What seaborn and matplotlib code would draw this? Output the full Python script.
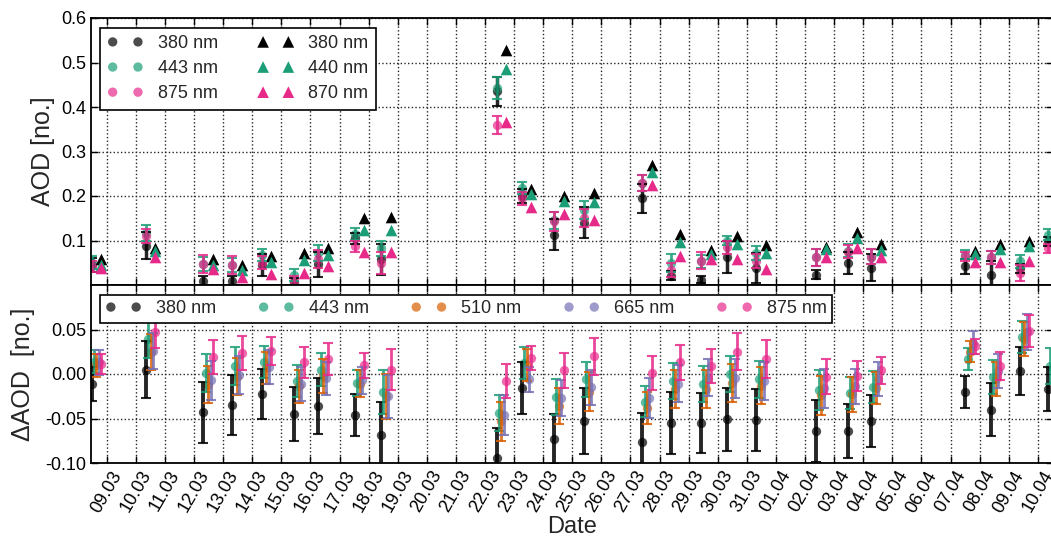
import matplotlib
matplotlib.use("Agg")
import matplotlib.pyplot as plt
import matplotlib.dates as mdates
import numpy as np
import pandas as pd
import seaborn as sns

nan = np.nan

# measurement times of the photometer (circles)
times = ["2014-03-08 11:30", "2014-03-10 08:10", "2014-03-12 07:40", "2014-03-13 07:25",
         "2014-03-14 07:40", "2014-03-15 10:35", "2014-03-16 06:30", "2014-03-17 12:30",
         "2014-03-18 10:05", "2014-03-22 09:35", "2014-03-23 06:15", "2014-03-24 08:55",
         "2014-03-25 09:35", "2014-03-27 09:35", "2014-03-28 09:05", "2014-03-29 10:05",
         "2014-03-30 07:55", "2014-03-31 07:55", "2014-04-02 09:20", "2014-04-03 11:00",
         "2014-04-04 06:15", "2014-04-07 12:15", "2014-04-08 09:05", "2014-04-09 08:55",
         "2014-04-10 08:25"]

# AOD photometer (circles)
aod_380 = [0.045, 0.088, 0.010, 0.010, 0.045, 0.006, 0.047, 0.105, 0.058, 0.435, 0.200, 0.113, 0.140,
           0.195, 0.021, 0.012, 0.063, 0.039, 0.023, 0.050, 0.039, 0.042, 0.023, 0.038, 0.098]
aod_380_err = [0.015, 0.030, 0.010, 0.010, 0.025, 0.010, 0.028, 0.012, 0.035, 0.033, 0.015, 0.035, 0.035,
               0.033, 0.010, 0.008, 0.035, 0.034, 0.010, 0.025, 0.030, 0.017, 0.030, 0.010, 0.010]
aod_443 = [0.050, 0.117, 0.047, 0.045, 0.068, 0.023, 0.072, 0.115, 0.083, 0.442, 0.218, 0.145, 0.169,
           0.229, 0.050, 0.053, 0.100, 0.072, 0.062, 0.077, 0.064, 0.068, 0.062, 0.053, 0.113]
aod_443_err = [0.015, 0.018, 0.015, 0.015, 0.014, 0.014, 0.018, 0.013, 0.017, 0.025, 0.013, 0.020, 0.020,
               0.018, 0.020, 0.015, 0.010, 0.015, 0.020, 0.015, 0.017, 0.010, 0.015, 0.015, 0.012]
aod_875 = [0.042, 0.110, 0.047, 0.045, 0.050, 0.010, 0.058, 0.087, 0.049, 0.360, 0.195, 0.143, 0.150,
           0.229, 0.034, 0.055, 0.085, 0.054, 0.062, 0.075, 0.064, 0.065, 0.062, 0.027, 0.083]
aod_875_err = [0.012, 0.015, 0.020, 0.020, 0.015, 0.010, 0.020, 0.013, 0.025, 0.020, 0.015, 0.022, 0.020,
               0.018, 0.015, 0.020, 0.015, 0.015, 0.020, 0.015, 0.017, 0.010, 0.015, 0.017, 0.010]

# AERONET (triangles)
aer_380 = [0.058, 0.083, 0.059, 0.044, 0.066, 0.073, 0.084, 0.150, 0.152, 0.528, 0.215, 0.200, 0.206,
           0.270, 0.114, 0.079, 0.110, 0.090, 0.085, 0.120, 0.092, 0.077, 0.093, 0.100, nan]
aer_440 = [0.045, 0.077, 0.044, 0.034, 0.052, 0.057, 0.068, 0.124, 0.124, 0.485, 0.204, 0.188, 0.186,
           0.253, 0.096, 0.069, 0.092, 0.072, 0.080, 0.105, 0.079, 0.070, 0.080, 0.088, nan]
aer_870 = [0.038, 0.062, 0.036, 0.019, 0.024, 0.027, 0.042, 0.075, 0.075, 0.367, 0.176, 0.160, 0.145,
           0.225, 0.066, 0.058, 0.059, 0.036, 0.062, 0.083, 0.063, 0.051, 0.051, 0.053, nan]

# delta AOD
d380 = [-0.011, 0.005, -0.043, -0.035, -0.022, -0.045, -0.036, -0.046, -0.069, -0.094, -0.016, -0.073, -0.053,
        -0.076, -0.055, -0.055, -0.051, -0.052, -0.064, -0.064, -0.053, -0.020, -0.040, 0.003, -0.017]
d380_err = [0.019, 0.032, 0.034, 0.034, 0.028, 0.030, 0.031, 0.024, 0.037, 0.033, 0.029, 0.028, 0.037,
            0.032, 0.035, 0.034, 0.035, 0.035, 0.035, 0.030, 0.029, 0.018, 0.030, 0.027, 0.025]
d443 = [0.014, 0.039, 0.001, 0.009, 0.014, -0.008, 0.005, -0.010, -0.020, -0.044, 0.012, -0.026, -0.006,
        -0.031, -0.008, -0.011, 0.000, -0.006, -0.018, -0.021, -0.015, 0.017, -0.003, 0.042, 0.009]
d443_err = [0.013, 0.021, 0.021, 0.021, 0.018, 0.018, 0.019, 0.015, 0.025, 0.020, 0.018, 0.020, 0.020,
            0.017, 0.020, 0.020, 0.020, 0.021, 0.022, 0.018, 0.018, 0.012, 0.019, 0.018, 0.020]
d510 = [0.010, 0.025, -0.012, -0.003, 0.007, -0.014, -0.002, -0.011, -0.025, -0.053, 0.010, -0.036, -0.020,
        -0.038, -0.017, -0.017, -0.010, -0.013, -0.024, -0.023, -0.016, 0.025, -0.006, 0.039, nan]
d510_err = [0.013, 0.020, 0.021, 0.021, 0.018, 0.019, 0.019, 0.015, 0.025, 0.022, 0.018, 0.020, 0.022,
            0.018, 0.021, 0.021, 0.021, 0.021, 0.022, 0.020, 0.018, 0.012, 0.019, 0.019, nan]
d665 = [0.013, 0.026, -0.007, -0.001, 0.008, -0.011, -0.005, -0.007, -0.025, -0.046, -0.006, -0.027, -0.015,
        -0.027, -0.011, -0.004, -0.005, -0.008, -0.016, -0.014, -0.006, 0.035, 0.003, 0.047, nan]
d665_err = [0.014, 0.020, 0.022, 0.021, 0.019, 0.019, 0.019, 0.015, 0.024, 0.022, 0.014, 0.020, 0.020,
            0.022, 0.021, 0.021, 0.022, 0.021, 0.022, 0.020, 0.019, 0.013, 0.019, 0.020, nan]
d875 = [0.011, 0.047, 0.019, 0.024, 0.026, 0.013, 0.017, 0.010, 0.005, -0.008, 0.018, 0.004, 0.020,
        0.001, 0.013, 0.009, 0.025, 0.017, -0.003, -0.002, 0.004, 0.031, 0.009, 0.048, nan]
d875_err = [0.011, 0.018, 0.019, 0.019, 0.016, 0.017, 0.018, 0.014, 0.023, 0.019, 0.014, 0.020, 0.021,
            0.019, 0.020, 0.019, 0.021, 0.021, 0.020, 0.017, 0.015, 0.008, 0.016, 0.018, nan]

sns.set_style("ticks")
plt.rcParams["font.family"] = ["Liberation Sans", "DejaVu Sans"]
plt.rcParams["xtick.direction"] = "in"
plt.rcParams["ytick.direction"] = "in"

pal = sns.color_palette("Dark2")
green, orange, purple, pink = pal[0], pal[1], pal[2], pal[3]

t = pd.to_datetime(pd.Series(times))
t_aer = t + pd.Timedelta(hours=8)

fig = plt.figure(figsize=(10.51, 5.37), dpi=100)
ax1 = fig.add_axes([91 / 1051, 1 - 285 / 537, 962 / 1051, 267 / 537])
ax2 = fig.add_axes([91 / 1051, 1 - 463 / 537, 962 / 1051, 178 / 537], sharex=ax1)

# top panel
for y, e, c, lab, lw in [(aod_380, aod_380_err, "k", "380 nm", 2.5),
                         (aod_443, aod_443_err, green, "443 nm", 2),
                         (aod_875, aod_875_err, pink, "875 nm", 2)]:
    ax1.errorbar(t, y, yerr=e, fmt="none", ecolor=c, elinewidth=lw, capsize=3.5, capthick=1.5, alpha=0.85)
    sns.scatterplot(x=t, y=y, color=c, alpha=0.7, s=45, linewidth=0, label=lab, ax=ax1)
for y, c, lab in [(aer_380, "k", "380 nm"), (aer_440, green, "440 nm"), (aer_870, pink, "870 nm")]:
    sns.scatterplot(x=t_aer, y=y, color=c, marker="^", s=70, linewidth=0, label=lab, ax=ax1)

# bottom panel
for i, (y, e, c, lab, lw) in enumerate([(d380, d380_err, "k", "380 nm", 2.8),
                                        (d443, d443_err, green, "443 nm", 2),
                                        (d510, d510_err, orange, "510 nm", 2),
                                        (d665, d665_err, purple, "665 nm", 2),
                                        (d875, d875_err, pink, "875 nm", 2)]):
    ts = t + pd.Timedelta(hours=2 * i)
    ax2.errorbar(ts, y, yerr=e, fmt="none", ecolor=c, elinewidth=lw, capsize=3.5, capthick=1.5, alpha=0.85)
    sns.scatterplot(x=ts, y=y, color=c, alpha=0.7, s=45, linewidth=0, label=lab, ax=ax2)

x0 = pd.Timestamp("2014-03-09") - pd.Timedelta(days=0.54)
x1 = pd.Timestamp("2014-03-09") + pd.Timedelta(days=32.52)
ax1.set_xlim(x0, x1)
ax1.set_ylim(0, 0.6)
ax2.set_ylim(-0.1, 0.1)
ax1.set_yticks([0.1, 0.2, 0.3, 0.4, 0.5, 0.6])
ax2.set_yticks([-0.10, -0.05, 0.00, 0.05])
ax1.yaxis.set_major_formatter(matplotlib.ticker.FormatStrFormatter("%.1f"))
ax2.yaxis.set_major_formatter(matplotlib.ticker.FormatStrFormatter("%.2f"))
ax2.xaxis.set_major_locator(mdates.DayLocator())
ax2.xaxis.set_major_formatter(mdates.DateFormatter("%d.%m"))
plt.setp(ax1.get_xticklabels(), visible=False)
plt.setp(ax2.get_xticklabels(), rotation=60, ha="center")

for ax in (ax1, ax2):
    ax.grid(True, color="0.15", linestyle=":", linewidth=1)
    ax.tick_params(labelsize=13, length=5, width=1, top=True, right=True, colors="k")
    for sp in ax.spines.values():
        sp.set_linewidth(1.3)
        sp.set_color("k")
    ax.set_xlabel("")

ax1.set_ylabel("AOD [no.]", fontsize=18, labelpad=4)
ax2.set_ylabel("ΔAOD  [no.]", fontsize=18, labelpad=7)
ax2.set_xlabel("Date", fontsize=17, labelpad=0)

leg1 = ax1.legend(ncol=2, loc="upper left", bbox_to_anchor=(0.0094, 0.9625), borderaxespad=0,
                  fontsize=13, scatterpoints=2, scatteryoffsets=[0.5], fancybox=False, edgecolor="k",
                  framealpha=1, handlelength=2.0, labelspacing=0.45, columnspacing=2.2)
leg1.get_frame().set_linewidth(1.2)
leg2 = ax2.legend(ncol=5, loc="upper left", bbox_to_anchor=(0.0094, 0.944), borderaxespad=0,
                  fontsize=13, scatterpoints=2, scatteryoffsets=[0.5], fancybox=False, edgecolor="k",
                  framealpha=1, handlelength=2.0, columnspacing=2.33, borderpad=0.3)
leg2.get_frame().set_linewidth(1.2)

fig.savefig("out.png", dpi=100)
